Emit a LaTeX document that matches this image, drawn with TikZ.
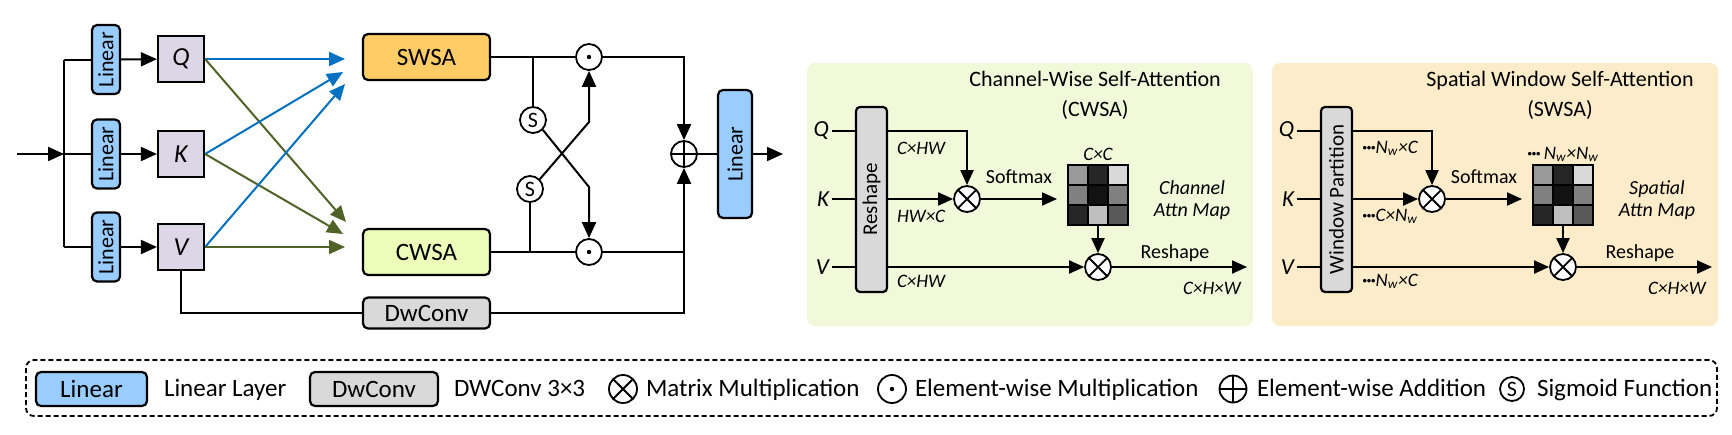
\documentclass[tikz,border=0pt]{standalone}
\usepackage{fontspec}
\setmainfont{Carlito}
\usepackage{graphicx}
\usetikzlibrary{arrows.meta,positioning,calc}

\definecolor{linblue}{HTML}{99CCFF}
\definecolor{swsaorange}{HTML}{FFCC66}
\definecolor{cwsagreen}{HTML}{EBFDB8}
\definecolor{qkvlilac}{HTML}{DCD6E6}
\definecolor{convgray}{HTML}{D9D9D9}
\definecolor{flowblue}{HTML}{0070C0}
\definecolor{flowgreen}{HTML}{4F6228}
\definecolor{cwsabg}{HTML}{F2F8DA}
\definecolor{swsabg}{HTML}{FDECC9}

\newcommand{\tdots}{\textbf{·\kern-0.4pt·\kern-0.4pt·}}

\tikzset{
  arr/.style={-{Triangle[length=8pt,width=7pt]}},
  sarr/.style={-{Triangle[length=7.5pt,width=6.5pt]}},
  blk/.style={draw,line width=1.1pt,rounded corners=2.5pt,inner sep=0pt},
  linbox/.style={blk,fill=linblue,minimum width=14pt,minimum height=34.5pt,font=\fontsize{11}{12}\selectfont},
  attbox/.style={blk,minimum width=63.5pt,minimum height=23pt,font=\fontsize{12.5}{14}\selectfont},
  qkv/.style={draw,line width=1.1pt,fill=qkvlilac,minimum size=23pt,inner sep=0pt,font=\fontsize{13}{14}\selectfont\itshape},
  op/.style={circle,draw,line width=0.9pt,fill=white,minimum size=13pt,inner sep=0pt},
  mulop/.style={op,path picture={\draw[black,line width=0.9pt] (path picture bounding box.north west)--(path picture bounding box.south east) (path picture bounding box.north east)--(path picture bounding box.south west);}},
  addop/.style={op,path picture={\draw[black,line width=0.9pt] (path picture bounding box.north)--(path picture bounding box.south) (path picture bounding box.west)--(path picture bounding box.east);}},
  dotop/.style={op,path picture={\fill[black] (path picture bounding box.center) circle (1.1pt);}},
  sigop/.style={op,font=\fontsize{11}{12}\selectfont},
  qlbl/.style={font=\fontsize{11.5}{12}\selectfont\itshape,inner sep=1pt},
  dimlbl/.style={font=\fontsize{9.5}{10}\selectfont\itshape,inner sep=1pt},
  lbl/.style={font=\fontsize{10}{11}\selectfont,inner sep=1pt},
  lgd/.style={font=\fontsize{12.5}{14}\selectfont,inner sep=1pt,anchor=base west},
}

% #1 shift, #2 background, #3 title, #4 box text, #5-#7 q/k/v dims, #8 map dim, #9 map name
\newcommand{\attnpanel}[9]{%
  \begin{scope}[shift={(#1,0)}]
    \fill[#2,rounded corners=4pt] (807,63) rectangle (1253,326);
    \node[font=\fontsize{11}{15}\selectfont,align=center] (ttl) at (1095,95) {#3};
    \node[blk,fill=convgray,rounded corners=2pt,minimum width=15.5pt,minimum height=92.5pt,font=\fontsize{10.5}{12}\selectfont] (prep) at (871.5,199.5) {\rotatebox{90}{#4}};
    \node[qlbl,anchor=east] (ql) at (832,131) {Q};
    \node[qlbl,anchor=east] (kl) at (832,199) {K};
    \node[qlbl,anchor=east] (vl) at (832,267) {V};
    \foreach \s in {ql,kl,vl} \draw (\s) -- (\s -| prep.west);
    \node[mulop] (mm1) at (967,199) {};
    \node[mulop] (mm2) at (1098,267) {};
    \draw[sarr] (ql -| prep.east) -| (mm1);
    \draw[sarr] (kl -| prep.east) -- (mm1);
    \draw[sarr] (vl -| prep.east) -- (mm2);
    \node[dimlbl,anchor=west] at (894,148) {#5};
    \node[dimlbl,anchor=west] at (894,216) {#6};
    \node[dimlbl,anchor=west] at (894,281) {#7};
    % attention map
    \foreach \g [count=\n from 0] in {40,85,15,50,93,50,85,25,65} {
      \pgfmathtruncatemacro\cc{mod(\n,3)}
      \pgfmathtruncatemacro\rr{int(\n/3)}
      \filldraw[fill=black!\g,draw=black,line width=0.8pt] ({1068+20*\cc},{165+20*\rr}) rectangle ++(20,20);
    }
    \node[draw,line width=1pt,minimum size=30pt,inner sep=0pt] (amap) at (1098,195) {};
    \node[dimlbl,above=0pt of amap] (mdim) {#8};
    \node[lbl,font=\fontsize{10}{11}\selectfont\itshape,align=center] (mname) at (1192,200) {#9};
    \coordinate (smx) at (1057,199);
    \draw[sarr] (mm1) -- (smx);
    \node[lbl] (smlbl) at (1019,177) {Softmax};
    \draw[sarr] (amap) -- (mm2);
    \coordinate (pout) at (1247,267);
    \draw[sarr] (mm2) -- (pout);
    \node[lbl] (rslbl) at (1175,253) {Reshape};
    \node[dimlbl] (outdim) at (1212,288) {C×H×W};
  \end{scope}}

\begin{document}
\begin{tikzpicture}[x=0.5pt,y=-0.5pt,line width=1pt]
  \useasboundingbox (0,0) rectangle (1732,434);

  % main block
  \coordinate (in) at (17,154);
  \coordinate (split) at (64,154);
  \node[linbox] (lin1) at (106,59.5) {\rotatebox{90}{Linear}};
  \node[linbox] (lin2) at (106,154) {\rotatebox{90}{Linear}};
  \node[linbox] (lin3) at (106,247) {\rotatebox{90}{Linear}};
  \node[qkv] (q) at (181,59) {Q};
  \node[qkv] (k) at (181,154) {K};
  \node[qkv] (v) at (181,247) {V};
  \node[attbox,fill=swsaorange] (swsa) at (426.5,57) {SWSA};
  \node[attbox,fill=cwsagreen] (cwsa) at (426.5,252) {CWSA};
  \node[attbox,fill=convgray,minimum height=15.5pt] (dwc) at (426.5,313) {DwConv};
  \node[dotop] (mulT) at (589,57) {};
  \node[dotop] (mulB) at (589,252) {};
  \node[sigop] (sigT) at (533,120) {S};
  \node[sigop] (sigB) at (530,189) {S};
  \node[addop] (add) at (684,154) {};
  \node[linbox,minimum width=17pt,minimum height=64pt] (lin4) at (735,154) {\rotatebox{90}{Linear}};
  \coordinate (out) at (783,154);

  \draw[arr] (in) -- (split);
  \draw (split |- lin1) -- (split |- lin3);
  \foreach \n/\s in {1/q,2/k,3/v} {
    \draw (split |- lin\n) -- (lin\n);
    \draw[arr] (lin\n) -- (\s);
  }
  \coordinate (sq) at (345,59);  \coordinate (sk) at (343,72);  \coordinate (sv) at (345,84);
  \coordinate (cq) at (346,222); \coordinate (ck) at (343,234); \coordinate (cv) at (345,247);
  \foreach \s in {q,k,v} {
    \draw[arr,flowblue] (\s.east) -- (s\s);
    \draw[arr,flowgreen] (\s.east) -- (c\s);
  }
  \draw (v) |- (dwc);
  \draw (swsa) -- (mulT);
  \draw[arr] (mulT) -| (add);
  \draw (cwsa) -- (mulB);
  \draw (mulB) -- (mulB -| add);
  \draw[arr] (dwc) -| (add);
  \draw (sigT) -- (sigT |- swsa);
  \draw (sigB) -- (sigB |- cwsa);
  \coordinate (bendB) at (589,187);
  \coordinate (bendT) at (589,122);
  \draw[arr] (sigT.south east) -- (bendB) -- (mulB);
  \draw[arr] (sigB.north east) -- (bendT) -- (mulT);
  \draw (add) -- (lin4);
  \draw[arr] (lin4) -- (out);

  % detail panels
  \attnpanel{0}{cwsabg}{Channel-Wise Self-Attention\\(CWSA)}{Reshape}{C×HW}{HW×C}{C×HW}{C×C}{Channel\\Attn Map}
  \attnpanel{465}{swsabg}{Spatial Window Self-Attention\\(SWSA)}{Window Partition}{\tdots N\textsubscript{w}×C}{\tdots C×N\textsubscript{w}}{\tdots N\textsubscript{w}×C}{\tdots\,N\textsubscript{w}×N\textsubscript{w}}{Spatial\\Attn Map}

  % legend
  \draw[line width=0.9pt,dash pattern=on 2.5pt off 1.5pt,rounded corners=4pt] (26,360) rectangle (1717,416);
  \node[blk,fill=linblue,minimum width=55.5pt,minimum height=17pt,font=\fontsize{12.5}{14}\selectfont] (lgLin) at (91.5,389) {Linear};
  \node[lgd] (lgLinT) at (161,396) {Linear Layer};
  \node[blk,fill=convgray,minimum width=64pt,minimum height=17pt,font=\fontsize{12.5}{14}\selectfont] (lgConv) at (374,389) {DwConv};
  \node[lgd] (lgConvT) at (451,396) {DWConv 3×3};
  \node[mulop,minimum size=14pt] (lgMul) at (623,389) {};
  \node[lgd] (lgMulT) at (643,396) {Matrix Multiplication};
  \node[dotop,minimum size=14pt] (lgDot) at (892,389) {};
  \node[lgd] (lgDotT) at (912,396) {Element-wise Multiplication};
  \node[addop,minimum size=13.5pt] (lgAdd) at (1233,389) {};
  \node[lgd] (lgAddT) at (1254,396) {Element-wise Addition};
  \node[sigop,minimum size=12pt] (lgSig) at (1512,389) {S};
  \node[lgd] (lgSigT) at (1534,396) {Sigmoid Function};
\end{tikzpicture}
\end{document}
